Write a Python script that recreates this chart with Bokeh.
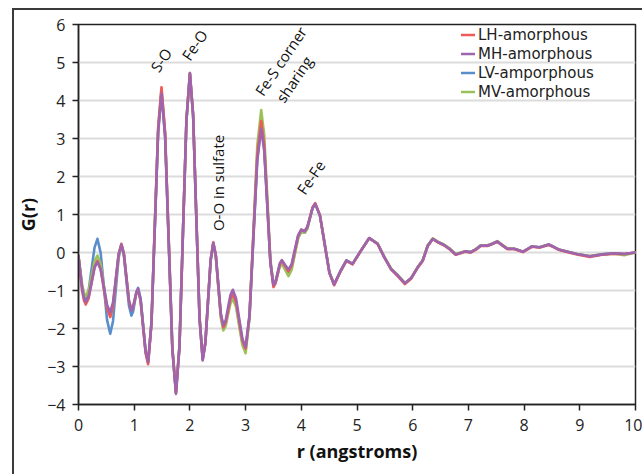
from bokeh.plotting import figure
from bokeh.models import Range1d, Legend, LegendItem, FixedTicker
from bokeh.core.properties import value
from bokeh.embed import file_html
from bokeh.resources import INLINE
import math

# ---- data ----
r = [0.0, 0.035, 0.065, 0.1, 0.13,
     0.183, 0.235, 0.288, 0.34,
     0.398, 0.455, 0.513, 0.57,
     0.62, 0.67, 0.72, 0.77,
     0.815, 0.86, 0.905, 0.95,
     0.98, 1.01, 1.04, 1.07,
     1.115, 1.16, 1.205, 1.25,
     1.31, 1.37, 1.43, 1.49,
     1.555, 1.62, 1.685, 1.75,
     1.813, 1.875, 1.938, 2.0,
     2.058, 2.115, 2.173, 2.23,
     2.278, 2.325, 2.373, 2.42,
     2.465, 2.51, 2.555, 2.6,
     2.643, 2.685, 2.728, 2.77,
     2.828, 2.885, 2.943, 3.0,
     3.07, 3.14, 3.21, 3.28,
     3.335, 3.39, 3.445, 3.5,
     3.538, 3.575, 3.613, 3.65,
     3.71, 3.77,
     3.828, 3.885, 3.943, 4.0,
     4.06,
     4.108, 4.155, 4.203, 4.25,
     4.335, 4.42, 4.505, 4.59,
     4.7, 4.81, 4.92, 5.07, 5.22,
     5.37, 5.49, 5.61, 5.73, 5.86, 5.97, 6.09, 6.18, 6.27, 6.36,
     6.46, 6.56, 6.66, 6.77, 6.86, 6.94, 7.04, 7.13, 7.22, 7.34,
     7.43, 7.52, 7.62, 7.70, 7.82, 7.88, 7.98, 8.06, 8.14, 8.28,
     8.44, 8.53, 8.62, 8.78, 8.95, 9.18, 9.40, 9.62, 9.80, 10.0]

mh_amorphous = [-0.10, -0.56, -0.95, -1.21, -1.30,
    -1.15, -0.78, -0.40, -0.25,
    -0.44, -0.91, -1.38, -1.57,
    -1.31, -0.68, -0.05, 0.21,
    -0.04, -0.66, -1.27, -1.52,
    -1.44, -1.24, -1.04, -0.96,
    -1.24, -1.92, -2.60, -2.88,
    -1.85, 0.65, 3.15, 4.18,
    3.03, 0.23, -2.57, -3.72,
    -2.49, 0.50, 3.49, 4.72,
    3.62, 0.94, -1.74, -2.84,
    -2.39, -1.30, -0.20, 0.25,
    -0.07, -0.84, -1.60, -1.92,
    -1.78, -1.45, -1.12, -0.98,
    -1.20, -1.74, -2.27, -2.49,
    -1.65, 0.39, 2.42, 3.26,
    2.66, 1.21, -0.25, -0.85,
    -0.76, -0.53, -0.29, -0.20,
    -0.33, -0.45,
    -0.30, 0.08, 0.45, 0.60,
    0.56,
    0.67, 0.92, 1.17, 1.28,
    0.97, 0.22, -0.53, -0.84,
    -0.50, -0.21, -0.30, 0.05, 0.38,
    0.23, -0.12, -0.43, -0.60, -0.81, -0.68, -0.39, -0.21, 0.18, 0.36,
    0.27, 0.20, 0.10, -0.05, -0.01, 0.03, 0.01, 0.08, 0.18, 0.18,
    0.23, 0.29, 0.18, 0.10, 0.10, 0.07, 0.02, 0.09, 0.16, 0.14,
    0.21, 0.15, 0.08, 0.02, -0.04, -0.10, -0.05, -0.02, -0.04, 0.00]

lh_amorphous = [-0.10, -0.59, -1.00, -1.27, -1.37,
    -1.20, -0.80, -0.39, -0.22,
    -0.44, -0.96, -1.48, -1.70,
    -1.42, -0.74, -0.05, 0.23,
    -0.03, -0.65, -1.27, -1.52,
    -1.44, -1.25, -1.06, -0.98,
    -1.27, -1.96, -2.65, -2.94,
    -1.88, 0.71, 3.29, 4.35,
    3.17, 0.33, -2.52, -3.70,
    -2.47, 0.51, 3.49, 4.72,
    3.62, 0.95, -1.72, -2.82,
    -2.37, -1.28, -0.18, 0.27,
    -0.06, -0.85, -1.64, -1.97,
    -1.84, -1.53, -1.22, -1.09,
    -1.30, -1.81, -2.32, -2.53,
    -1.66, 0.47, 2.59, 3.46,
    2.82, 1.28, -0.27, -0.91,
    -0.81, -0.57, -0.32, -0.22,
    -0.36, -0.50,
    -0.34, 0.05, 0.44, 0.60,
    0.56,
    0.67, 0.93, 1.19, 1.30,
    0.98, 0.22, -0.54, -0.86,
    -0.51, -0.22, -0.31, 0.04, 0.38,
    0.22, -0.13, -0.44, -0.62, -0.83, -0.69, -0.40, -0.22, 0.17, 0.35,
    0.26, 0.19, 0.09, -0.06, -0.02, 0.02, 0.00, 0.07, 0.17, 0.17,
    0.22, 0.28, 0.17, 0.09, 0.09, 0.06, 0.01, 0.08, 0.15, 0.13,
    0.20, 0.14, 0.07, 0.01, -0.05, -0.12, -0.06, -0.03, -0.04, 0.00]

lv_amporphous = [-0.10, -0.53, -0.89, -1.13, -1.22,
    -0.99, -0.43, 0.13, 0.36,
    -0.01, -0.89, -1.78, -2.14,
    -1.80, -0.97, -0.14, 0.20,
    -0.07, -0.73, -1.39, -1.66,
    -1.55, -1.30, -1.04, -0.93,
    -1.21, -1.91, -2.60, -2.88,
    -1.84, 0.69, 3.21, 4.25,
    3.09, 0.29, -2.52, -3.68,
    -2.46, 0.51, 3.48, 4.70,
    3.60, 0.95, -1.71, -2.80,
    -2.36, -1.28, -0.20, 0.24,
    -0.09, -0.88, -1.66, -1.99,
    -1.87, -1.57, -1.27, -1.15,
    -1.36, -1.87, -2.37, -2.58,
    -1.71, 0.39, 2.48, 3.35,
    2.73, 1.24, -0.26, -0.88,
    -0.79, -0.57, -0.34, -0.25,
    -0.40, -0.55,
    -0.39, 0.00, 0.39, 0.55,
    0.52,
    0.63, 0.90, 1.17, 1.28,
    0.97, 0.22, -0.53, -0.84,
    -0.50, -0.21, -0.30, 0.05, 0.38,
    0.23, -0.12, -0.43, -0.60, -0.81, -0.68, -0.39, -0.21, 0.18, 0.36,
    0.27, 0.20, 0.10, -0.05, -0.01, 0.03, 0.01, 0.08, 0.18, 0.18,
    0.23, 0.29, 0.18, 0.10, 0.10, 0.07, 0.02, 0.09, 0.16, 0.14,
    0.21, 0.15, 0.08, 0.02, -0.04, -0.10, -0.05, -0.02, -0.04, 0.00]

mv_amorphous = [-0.10, -0.50, -0.84, -1.07, -1.15,
    -0.99, -0.62, -0.24, -0.08,
    -0.31, -0.87, -1.43, -1.66,
    -1.39, -0.74, -0.08, 0.19,
    -0.06, -0.66, -1.25, -1.50,
    -1.42, -1.24, -1.06, -0.98,
    -1.26, -1.94, -2.62, -2.90,
    -1.85, 0.69, 3.23, 4.28,
    3.12, 0.31, -2.50, -3.66,
    -2.44, 0.52, 3.48, 4.70,
    3.60, 0.95, -1.71, -2.80,
    -2.36, -1.29, -0.22, 0.22,
    -0.11, -0.92, -1.72, -2.05,
    -1.93, -1.64, -1.34, -1.22,
    -1.43, -1.94, -2.44, -2.65,
    -1.72, 0.55, 2.82, 3.75,
    3.08, 1.45, -0.18, -0.85,
    -0.77, -0.58, -0.38, -0.30,
    -0.46, -0.62,
    -0.45, -0.04, 0.38, 0.55,
    0.52,
    0.63, 0.90, 1.17, 1.28,
    0.97, 0.22, -0.53, -0.84,
    -0.50, -0.21, -0.30, 0.05, 0.38,
    0.24, -0.11, -0.42, -0.59, -0.80, -0.67, -0.38, -0.20, 0.19, 0.37,
    0.28, 0.21, 0.11, -0.04, 0.00, 0.03, 0.01, 0.09, 0.19, 0.19,
    0.24, 0.30, 0.19, 0.11, 0.10, 0.07, 0.02, 0.09, 0.16, 0.14,
    0.21, 0.15, 0.08, 0.02, -0.04, -0.09, -0.05, -0.03, -0.07, 0.00]

series_labels = ["LH-amorphous", "MH-amorphous", "LV-amporphous", "MV-amorphous"]
x_ticks = [0, 1, 2, 3, 4, 5, 6, 7, 8, 9, 10]
y_ticks = [-4, -3, -2, -1, 0, 1, 2, 3, 4, 5, 6]

ann_text = ["S-O", "Fe-O", "Fe-S corner", "sharing", "Fe-Fe"]
ann_r = [1.48, 2.08, 3.63, 3.87, 4.17]
ann_g = [5.07, 5.46, 5.04, 4.56, 1.98]
vert_text = ["O-O in sulfate"]
vert_r = [2.51]
vert_g = [1.83]

FONT = "Open Sans"
LEGEND_FONT = "DejaVu Sans"

p = figure(width=642, height=474, output_backend="svg", toolbar_location=None,
           x_range=Range1d(0, 10), y_range=Range1d(-4, 6),
           min_border_left=78, min_border_right=7, min_border_top=24, min_border_bottom=70)

# outer chart-area border (left and top edges visible in the reference), drawn by CSS behind a transparent canvas border
p.border_fill_color = None
p.background_fill_color = "white"
p.styles = {"background": ("linear-gradient(#3a3a3a, #3a3a3a) 12px 8px / 2px 600px no-repeat, "
                           "linear-gradient(#3a3a3a, #3a3a3a) 12px 8px / 700px 2px no-repeat, #ffffff")}

p.outline_line_color = "#222222"
p.outline_line_width = 1.5
p.xgrid.visible = False
p.ygrid.grid_line_color = "#dcdcdc"
p.ygrid.grid_line_width = 2
p.xaxis.ticker = FixedTicker(ticks=x_ticks)
p.yaxis.ticker = FixedTicker(ticks=y_ticks)
for ax in (p.xaxis[0], p.yaxis[0]):
    ax.axis_line_color = "#222222"
    ax.axis_line_width = 1.5
    ax.major_tick_line_color = "#222222"
    ax.major_tick_line_width = 1.5
    ax.major_tick_in = 0
    ax.major_tick_out = 6
    ax.minor_tick_line_color = None
    ax.major_label_text_font = FONT
    ax.major_label_text_font_size = "16px"
    ax.major_label_text_color = "#222222"
    ax.axis_label_text_font = FONT
    ax.axis_label_text_font_size = "18px"
    ax.axis_label_text_font_style = "bold"
    ax.axis_label_text_color = "#111111"
p.xaxis.axis_label = "r (angstroms)"
p.yaxis.axis_label = "G(r)"
p.xaxis.major_label_standoff = 8
p.yaxis.major_label_standoff = 7
p.xaxis.axis_label_standoff = 5
p.yaxis.axis_label_standoff = 4

colors = {"LH": "#ee5a5a", "MH": "#9e64ae", "LV": "#5a8ecb", "MV": "#9bc25a"}
kw = dict(line_width=2.6, line_join="round", line_cap="round")
r_lv = p.line(r, lv_amporphous, line_color=colors["LV"], **kw)
r_mv = p.line(r, mv_amorphous, line_color=colors["MV"], **kw)
r_lh = p.line(r, lh_amorphous, line_color=colors["LH"], **kw)
r_mh = p.line(r, mh_amorphous, line_color=colors["MH"], **kw)

angle = math.radians(56)
p.text(x=ann_r, y=ann_g, text=ann_text, angle=angle, text_font=value(FONT),
       text_font_size="15px", text_color="#111111", text_align="center", text_baseline="middle")
p.text(x=vert_r, y=vert_g, text=vert_text, angle=math.pi / 2, text_font=value(FONT),
       text_font_size="15px", text_color="#111111", text_align="center", text_baseline="middle")

# one single-item legend per series, to reproduce the reference's tight row pitch
legend_renderers = [r_lh, r_mh, r_lv, r_mv]
legend_y = [360, 341, 322, 303]
for lab, rend, ly in zip(series_labels, legend_renderers, legend_y):
    lg = Legend(items=[LegendItem(label=lab, renderers=[rend])], location=(383, ly))
    lg.background_fill_alpha = 0
    lg.border_line_alpha = 0
    lg.padding = 0
    lg.margin = 0
    lg.glyph_width = 14
    lg.glyph_height = 19
    lg.label_height = 19
    lg.label_standoff = 3
    lg.label_text_font = LEGEND_FONT
    lg.label_text_font_size = "15px"
    lg.label_text_color = "#222222"
    p.add_layout(lg)

open("out.html", "w").write(file_html(p, INLINE))
